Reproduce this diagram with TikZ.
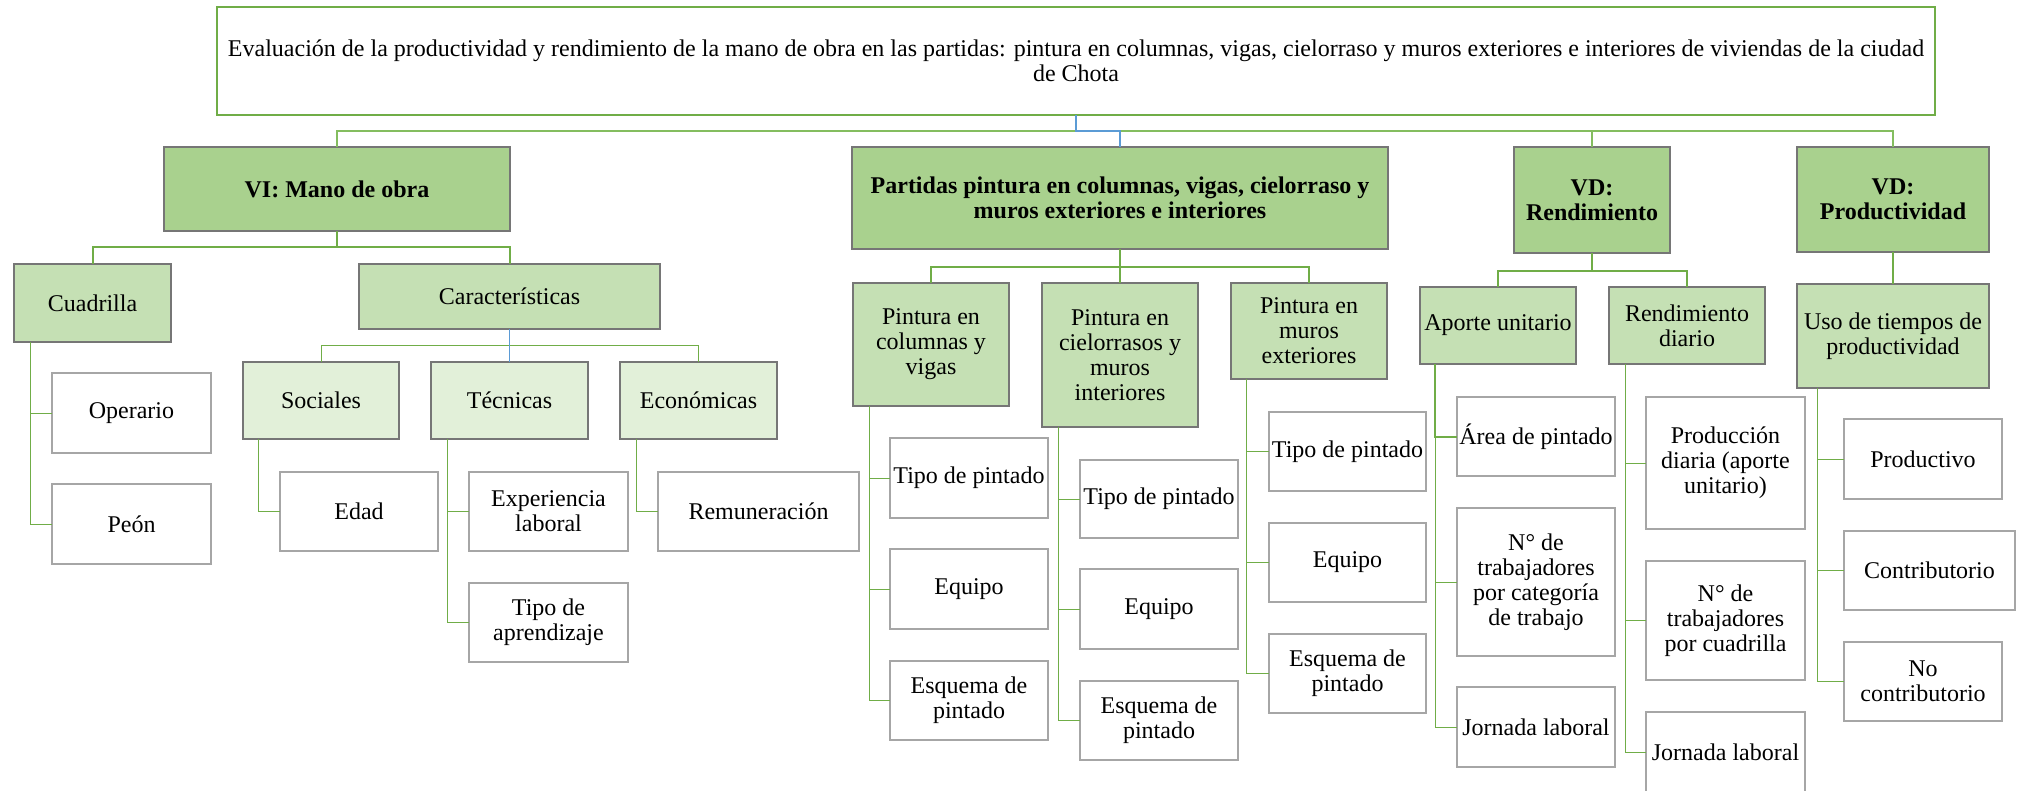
\documentclass[tikz,border=0pt]{standalone}
\usepackage{fontspec}
\setmainfont{Liberation Serif}
\usetikzlibrary{calc}
\definecolor{gA}{HTML}{A9D18E}
\definecolor{gB}{HTML}{C5E0B4}
\definecolor{gC}{HTML}{E2F0D9}
\definecolor{gLine}{HTML}{70AD47}
\definecolor{gBus}{HTML}{84BD5F}
\definecolor{bLine}{HTML}{5B9BD5}
\definecolor{grD}{HTML}{767676}
\definecolor{grL}{HTML}{A6A6A6}
\begin{document}
\begin{tikzpicture}[x=1pt,y=-1pt,
  base/.style={rectangle, anchor=north west, inner sep=1pt, outer sep=0pt, align=center,
    font=\fontsize{24}{25}\selectfont},
  bx/.style 2 args={minimum width=#1pt, minimum height=#2pt},
  titlebox/.style={base, draw=gLine, line width=2.5pt, fill=white},
  lvlA/.style={base, draw=grD, line width=1.3pt, fill=gA, font=\fontsize{24}{25}\selectfont\bfseries},
  lvlB/.style={base, draw=grD, line width=1.3pt, fill=gB},
  lvlC/.style={base, draw=grD, line width=1.3pt, fill=gC},
  leaf/.style={base, draw=grL, line width=2pt, fill=white},
  bus/.style={draw=gBus, line width=1.2pt},
  thickc/.style={draw=gLine, line width=2pt},
  thinc/.style={draw=gLine, line width=1pt},
  bluec/.style={draw=bLine, line width=1.5pt},
  bluethin/.style={draw=bLine, line width=1pt}
]
\fill[white] (0,0) rectangle (2024,790);
\useasboundingbox (0,0) rectangle (2024,790);

% title
\node[titlebox, bx={1718}{108}] (title) at (217,7)
  {Evaluación de la productividad y rendimiento de la mano de obra en las partidas: pintura en columnas, vigas, cielorraso y muros exteriores e interiores de viviendas de la ciudad\\de Chota};

% level 1
\node[lvlA, bx={346}{84}] (vi) at (164,147) {VI: Mano de obra};
\node[lvlA, bx={536}{102}] (part) at (852,147) {Partidas pintura en columnas, vigas, cielorraso y\\muros exteriores e interiores};
\node[lvlA, bx={156}{106}] (vdr) at (1514,147) {VD:\\Rendimiento};
\node[lvlA, bx={192}{105}] (vdp) at (1797,147) {VD:\\Productividad};

% level 2
\node[lvlB, bx={157}{78}] (cuad) at (14,264) {Cuadrilla};
\node[lvlB, bx={301}{65}] (car) at (359,264) {Características};
\node[lvlB, bx={156}{123}] (pcol) at (853,283) {Pintura en\\columnas y\\vigas};
\node[lvlB, bx={156}{144}] (pcie) at (1042,283) {Pintura en\\cielorrasos y\\muros\\interiores};
\node[lvlB, bx={156}{96}] (pmur) at (1231,283) {Pintura en\\muros\\exteriores};
\node[lvlB, bx={156}{77}] (apor) at (1420,287) {Aporte unitario};
\node[lvlB, bx={156}{77}] (rdia) at (1609,287) {Rendimiento\\diario};
\node[lvlB, bx={192}{104}] (uso) at (1797,284) {Uso de tiempos de\\productividad};

% level 3
\node[lvlC, bx={156}{77}] (soc) at (243,362) {Sociales};
\node[lvlC, bx={157}{77}] (tec) at (431,362) {Técnicas};
\node[lvlC, bx={157}{77}] (eco) at (620,362) {Económicas};

% leaves
\node[leaf, bx={159}{80}] (oper) at (52,373) {Operario};
\node[leaf, bx={159}{80}] (peon) at (52,484) {Peón};
\node[leaf, bx={158}{79}] (edad) at (280,472) {Edad};
\node[leaf, bx={159}{79}] (expe) at (469,472) {Experiencia\\laboral};
\node[leaf, bx={159}{79}] (tapr) at (469,583) {Tipo de\\aprendizaje};
\node[leaf, bx={201}{79}] (remu) at (658,472) {Remuneración};

\node[leaf, bx={158}{80}] (c1) at (890,438) {Tipo de pintado};
\node[leaf, bx={158}{80}] (c2) at (890,549) {Equipo};
\node[leaf, bx={158}{79}] (c3) at (890,661) {Esquema de\\pintado};

\node[leaf, bx={158}{78}] (i1) at (1080,460) {Tipo de pintado};
\node[leaf, bx={158}{80}] (i2) at (1080,569) {Equipo};
\node[leaf, bx={158}{79}] (i3) at (1080,681) {Esquema de\\pintado};

\node[leaf, bx={157}{79}] (m1) at (1269,412) {Tipo de pintado};
\node[leaf, bx={157}{79}] (m2) at (1269,523) {Equipo};
\node[leaf, bx={157}{79}] (m3) at (1269,634) {Esquema de\\pintado};

\node[leaf, bx={158}{79}] (a1) at (1457,397) {Área de pintado};
\node[leaf, bx={158}{148}] (a2) at (1457,508) {N° de\\trabajadores\\por categoría\\de trabajo};
\node[leaf, bx={158}{80}] (a3) at (1457,687) {Jornada laboral};

\node[leaf, bx={159}{132}] (r1) at (1646,397) {Producción\\diaria (aporte\\unitario)};
\node[leaf, bx={159}{119}] (r2) at (1646,561) {N° de\\trabajadores\\por cuadrilla};
\node[leaf, bx={159}{80}] (r3) at (1646,712) {Jornada laboral};

\node[leaf, bx={158}{80}] (p1) at (1844,419) {Productivo};
\node[leaf, bx={171}{79}] (p2) at (1844,531) {Contributorio};
\node[leaf, bx={158}{79}] (p3) at (1844,642) {No\\contributorio};

% connectors: title level
\draw[bus] (vi.north) -- ++(0,-16) -| (vdp.north);
\draw[bus] (vdr.north) -- ++(0,-16);
\draw[bluec] (title.south) -- ++(0,16) -| (part.north);

% VI
\draw[thickc] (vi.south) -- ++(0,16) -| (cuad.north);
\draw[thickc] (vi.south) -- ++(0,16) -| (car.north);
% Caracteristicas
\draw[thinc] (car.south) -- ++(0,16) -| (soc.north);
\draw[thinc] (car.south) -- ++(0,16) -| (eco.north);
\draw[bluethin] (car.south) -- (tec.north);
% Partidas
\draw[thickc] (part.south) -- ++(0,18) -| (pcol.north);
\draw[thickc] (part.south) -- ++(0,18) -| (pmur.north);
\draw[thickc] (part.south) -- (pcie.north);
% VD rendimiento
\draw[thickc] (vdr.south) -- ++(0,18) -| (apor.north);
\draw[thickc] (vdr.south) -- ++(0,18) -| (rdia.north);
% VD productividad
\draw[thickc] (vdp.south) -- (uso.north);

% leaf connectors
\draw[thinc] ($(cuad.south west)+(16,0)$) |- (oper.west);
\draw[thinc] ($(cuad.south west)+(16,0)$) |- (peon.west);
\draw[thinc] ($(soc.south west)+(15,0)$) |- (edad.west);
\draw[thinc] ($(tec.south west)+(16,0)$) |- (expe.west);
\draw[thinc] ($(tec.south west)+(16,0)$) |- (tapr.west);
\draw[thinc] ($(eco.south west)+(16,0)$) |- (remu.west);

\draw[thinc] ($(pcol.south west)+(16,0)$) |- (c1.west);
\draw[thinc] ($(pcol.south west)+(16,0)$) |- (c2.west);
\draw[thinc] ($(pcol.south west)+(16,0)$) |- (c3.west);

\draw[thinc] ($(pcie.south west)+(16,0)$) |- (i1.west);
\draw[thinc] ($(pcie.south west)+(16,0)$) |- (i2.west);
\draw[thinc] ($(pcie.south west)+(16,0)$) |- (i3.west);

\draw[thinc] ($(pmur.south west)+(15,0)$) |- (m1.west);
\draw[thinc] ($(pmur.south west)+(15,0)$) |- (m2.west);
\draw[thinc] ($(pmur.south west)+(15,0)$) |- (m3.west);

\draw[thickc] ($(apor.south west)+(15,0)$) |- (a1.west);
\draw[thinc] ($(apor.south west)+(15,0)$) |- (a2.west);
\draw[thinc] ($(apor.south west)+(15,0)$) |- (a3.west);

\draw[thinc] ($(rdia.south west)+(16,0)$) |- (r1.west);
\draw[thinc] ($(rdia.south west)+(16,0)$) |- (r2.west);
\draw[thinc] ($(rdia.south west)+(16,0)$) |- (r3.west);

\draw[thinc] ($(uso.south west)+(20,0)$) |- (p1.west);
\draw[thinc] ($(uso.south west)+(20,0)$) |- (p2.west);
\draw[thinc] ($(uso.south west)+(20,0)$) |- (p3.west);
\end{tikzpicture}
\end{document}
